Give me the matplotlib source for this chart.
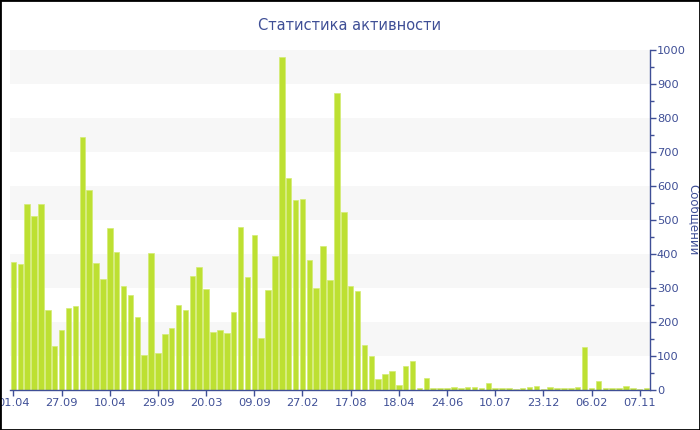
import matplotlib
matplotlib.use("Agg")
import matplotlib.pyplot as plt
from matplotlib.ticker import MultipleLocator

values = [377, 370, 546, 513, 548, 235, 129, 177, 240, 248,
          745, 589, 373, 326, 476, 405, 307, 280, 216, 103,
          402, 108, 164, 181, 250, 236, 336, 362, 297, 170,
          177, 168, 229, 480, 332, 455, 152, 294, 394, 978,
          624, 560, 563, 382, 301, 424, 324, 873, 524, 307,
          290, 133, 101, 33, 46, 57, 16, 70, 85, 6,
          36, 6, 5, 6, 8, 6, 8, 8, 6, 21,
          5, 5, 5, 4, 5, 8, 12, 4, 10, 6,
          5, 5, 8, 127, 7, 27, 6, 6, 5, 12,
          6, 4, 6]
tick_labels = ["01.04", "27.09", "10.04", "29.09", "20.03", "09.09", "27.02",
               "17.08", "18.04", "24.06", "10.07", "23.12", "06.02", "07.11"]
title = "Статистика активности"
ylabel = "Сообщений"

plt.rcParams['font.family'] = ['DejaVu Sans']
blue = "#3f4f96"
bar_color = "#bde032"

fig = plt.figure(figsize=(7, 4.3), dpi=100)
W, H = 700, 430
ax = fig.add_axes([10 / W, 1 - 390 / H, 640 / W, 340 / H])

# alternating bands
for lo in range(100, 1000, 200):
    ax.axhspan(lo, lo + 100, color="#f7f7f7", zorder=0, lw=0)

x = list(range(len(values)))
ax.bar(x, values, width=0.8, color=bar_color, edgecolor="#d4ec74", linewidth=0.5, zorder=2)

ax.set_xlim(-0.5, len(values) - 0.5)
ax.set_ylim(0, 1000)

ax.set_xticks(list(range(0, 7 * len(tick_labels), 7)))
ax.set_xticklabels(tick_labels)

ax.yaxis.tick_right()
ax.yaxis.set_major_locator(MultipleLocator(100))
ax.yaxis.set_minor_locator(MultipleLocator(50))

for s in ["top", "left"]:
    ax.spines[s].set_visible(False)
for s in ["bottom", "right"]:
    ax.spines[s].set_color(blue)
    ax.spines[s].set_linewidth(1)

ax.tick_params(axis="x", colors=blue, labelsize=8.2, length=4, width=1, pad=2)
ax.tick_params(axis="y", which="major", colors=blue, labelsize=8.2, length=4, width=1, pad=1)
ax.tick_params(axis="y", which="minor", colors=blue, length=3, width=1)

fig.text(0.5, 1 - 25 / H, title, ha="center", va="center", color=blue, fontsize=10.5)
fig.text(694 / W, 1 - 220 / H, ylabel, ha="center", va="center", rotation=270,
         color=blue, fontsize=8.5)

# figure border
border = plt.Rectangle((0, 0), 1, 1, transform=fig.transFigure, fill=False,
                       edgecolor="black", linewidth=2, zorder=10)
fig.patches.append(border)

fig.savefig("out.png", dpi=100)
